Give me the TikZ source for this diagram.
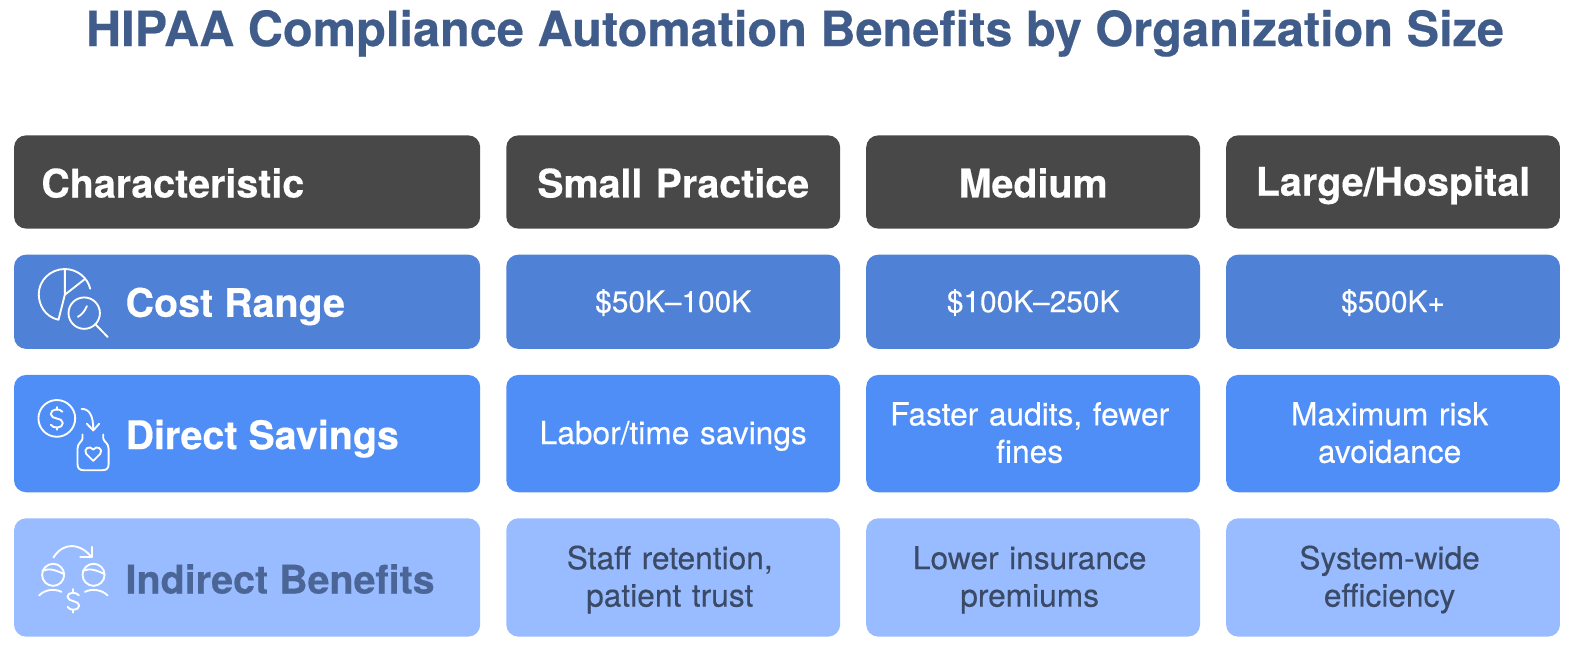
\documentclass[tikz,border=0pt]{standalone}
\usepackage{fontspec}
\setmainfont{TeX Gyre Heros}
\newfontfamily\medf[FakeBold=0.3]{TeX Gyre Heros}
\newfontfamily\heavyf[FakeBold=0.35]{TeX Gyre Heros Bold}
\definecolor{titlec}{HTML}{3F5C8A}
\definecolor{headc}{HTML}{484848}
\definecolor{rowa}{HTML}{4F81D6}
\definecolor{rowb}{HTML}{4F8EF7}
\definecolor{rowc}{HTML}{98BCFF}
\definecolor{darktxt}{HTML}{3B4A66}
\definecolor{labtxt}{HTML}{4A6596}
\newcommand{\bodystrut}{\rule[-5.7bp]{0pt}{27bp}}
\newcommand{\headstrut}{\rule[-3.8bp]{0pt}{30.8bp}}
\newcommand{\nudge}{\kern5.2bp\relax}
\tikzset{
 x=0.75bp,y=-0.75bp,
 cell/.style={draw=none,rounded corners=9bp,inner sep=0pt,align=center,text width=#1*0.75bp-12bp,minimum width=#1*0.75bp},
 cell/.default=333,
 hd/.style={fill=headc,text=white,font=\fontsize{29.6}{36}\heavyf,minimum height=69.75bp,execute at begin node=\headstrut},
 body/.style={font=\fontsize{23.8}{27}\medf,execute at begin node=\bodystrut,execute at end node=\bodystrut},
 ra/.style={fill=rowa,text=white,body,font=\fontsize{22.4}{27}\medf,minimum height=70.5bp},
 rb/.style={fill=rowb,text=white,body,minimum height=87.75bp},
 rc/.style={fill=rowc,text=darktxt,body,minimum height=88.5bp},
 lab/.style={anchor=base west,inner sep=0pt,font=\fontsize{29.6}{36}\heavyf},
 icon/.style={draw=white,line width=1.4bp,line cap=round,line join=round,x=0.25bp,y=-0.25bp},
}
\begin{document}
\begin{tikzpicture}
\useasboundingbox (0,0) rectangle (1568,650.4);
\node[anchor=base,font=\fontsize{36.55}{44}\heavyf,text=titlec,inner sep=0pt] (title) at (793,46) {HIPAA Compliance Automation Benefits by Organization Size};
% header
\node[cell=465,hd] (h1) at (246.5,181.5) {}; 
\node[lab,text=white] (h1t) at (41,197) {Characteristic};
\node[cell,hd] (h2) at (671.5,181.5) {Small Practice};
\node[cell,hd] (h3) at (1030.5,181.5) {Medium};
\node[cell,hd] (h4) at (1389.5,181.5) {Large/Hospital};
% row a
\node[cell=465,ra] (a1) at (246.5,301) {};
\node[lab,text=white] (a1t) at (125,316) {Cost Range};
\node[cell,ra] (a2) at (671.5,301) {\$50K–100K};
\node[cell,ra] (a3) at (1030.5,301) {\$100K–250K};
\node[cell,ra] (a4) at (1389.5,301) {\$500K+};
% row b
\node[cell=465,rb] (b1) at (246.5,432.5) {};
\node[lab,text=white] (b1t) at (125,448) {Direct Savings};
\node[cell,rb] (b2) at (671.5,432.5) {Labor/time savings};
\node[cell,rb] (b3) at (1030.5,432.5) {Faster audits, fewer\nudge\\fines\nudge};
\node[cell,rb] (b4) at (1389.5,432.5) {Maximum risk\nudge\\avoidance\nudge};
% row c
\node[cell=465,rc] (c1) at (246.5,576) {};
\node[lab,text=labtxt] (c1t) at (125,592) {Indirect Benefits};
\node[cell,rc] (c2) at (671.5,576) {Staff retention,\nudge\\patient trust\nudge};
\node[cell,rc] (c3) at (1030.5,576) {Lower insurance\nudge\\premiums\nudge};
\node[cell,rc] (c4) at (1389.5,576) {System-wide\nudge\\efficiency\nudge};
% icon 1
\begin{scope}[shift={(14,250)},icon]
\draw[icon] (133,207) .. controls (90,197) and (74,160) .. (74,130) .. controls (74,90) and (108,55) .. (152,55) -- (152,132) -- (133,207);
\draw[icon] (152,55) .. controls (188,55) and (220,80) .. (228,114);
\draw[icon] (152,132) -- (212,85);
\draw[icon] (210,187) circle[radius=47];
\draw[icon] (245,222) -- (280,258);
\draw[icon] (191,198) .. controls (203,192) and (212,180) .. (218,166);
\end{scope}
% icon 2
\begin{scope}[shift={(14,375)},icon]
\draw[icon] (128,127) circle[radius=55];
\draw[icon] (145,107) .. controls (138,97) and (110,97) .. (110,114) .. controls (110,132) and (146,122) .. (146,141) .. controls (146,158) and (116,158) .. (110,146);
\draw[icon] (128,93) -- (128,101) (128,154) -- (128,161);
\draw[icon] (202,99) .. controls (225,97) and (238,120) .. (237,162);
\draw[icon] (218,143) -- (237,163) -- (255,143);
\draw[icon] (205,175) -- (205,187) .. controls (204,197) and (190,200) .. (190,218) -- (190,264) .. controls (190,276) and (196,282) .. (208,282) -- (265,282) .. controls (277,282) and (283,276) .. (283,264) -- (283,218) .. controls (283,200) and (268,197) .. (267,187) -- (267,175);
\draw[icon] (237,254) -- (216,233) .. controls (206,220) and (226,205) .. (237,220) .. controls (248,205) and (268,220) .. (258,233) -- cycle;
\end{scope}
% icon 3
\begin{scope}[shift={(14,520)},icon]
\draw[icon] (118,108) .. controls (135,82) and (155,74) .. (172,74) .. controls (195,74) and (218,88) .. (232,108);
\draw[icon] (232,76) -- (232,108) -- (198,108);
\draw[icon] (117,160) circle[radius=33];
\draw[icon] (238,160) circle[radius=33];
\draw[icon] (85,148) .. controls (105,138) and (130,148) .. (150,158);
\draw[icon] (206,148) .. controls (226,138) and (251,148) .. (271,158);
\draw[icon] (75,222) .. controls (90,205) and (120,200) .. (142,211);
\draw[icon] (212,211) .. controls (234,200) and (264,205) .. (280,222);
\draw[icon] (194,221) .. controls (185,210) and (159,212) .. (160,226) .. controls (161,242) and (195,236) .. (195,252) .. controls (195,268) and (165,268) .. (160,256);
\draw[icon] (177,203) -- (177,211) (177,265) -- (177,273);
\end{scope}
\end{tikzpicture}
\end{document}
